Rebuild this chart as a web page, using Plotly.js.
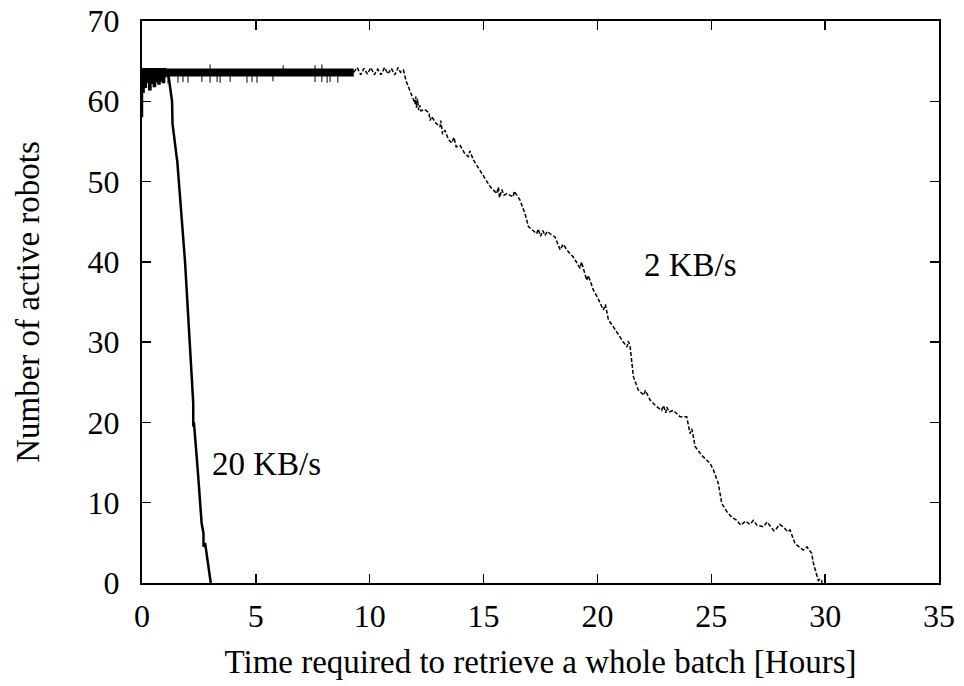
<!DOCTYPE html>
<html>
<head>
<meta charset="utf-8">
<script src="https://cdn.plot.ly/plotly-3.0.1.min.js"></script>
<style>html,body{margin:0;padding:0;background:#fff;}#chart{width:964px;height:686px;}</style>
</head>
<body>
<div id="chart"></div>
<script>
// ---- 20 KB/s series (hours, active robots) ----
const x20 = [0, 0, 0.02, 0.02, 0.07, 0.07, 0.12, 0.12, 0.17, 0.17, 0.22, 0.22, 0.27, 0.27, 0.32, 0.32,
  0.37, 0.37, 0.42, 0.42, 0.47, 0.47, 0.52, 0.52, 0.57, 0.57, 0.62, 0.62, 0.67, 0.67, 0.72, 0.72,
  0.77, 0.77, 0.82, 0.82, 0.87, 0.87, 0.92, 0.92, 0.97, 0.97, 1.02, 1.02, 1.08, 1.16,
  1.32, 1.34, 1.52, 1.55, 1.89, 2.25, 2.25, 2.28, 2.45, 2.62, 2.62, 2.7, 2.7, 2.77, 2.99, 3.02];
const y20 = [58, 64, 64, 61.2, 61.2, 64, 64, 61.8, 61.8, 64, 64, 62.4, 62.4, 64, 64, 61.5,
  61.5, 64, 64, 62.3, 62.3, 64, 64, 61.9, 61.9, 64, 64, 62.5, 62.5, 64, 64, 62.2,
  62.2, 64, 64, 62.6, 62.6, 64, 64, 62.4, 62.4, 64, 64, 63, 63.5, 63.3,
  60, 57.2, 53.1, 52.5, 40, 22.4, 19.5, 20, 14, 8.3, 7.4, 6.2, 4.5, 5.0, 0.5, 0];

// ---- 2 KB/s series: dense plateau band, dips and the descending trace ----
const xBand2 = [0, 9.3];
const yBand2 = [63.6, 63.6];

const xDip2 = [1.14, 1.14, null, 1.58, 1.58, null, 1.8, 1.8, null, 2.02, 2.02, null, 2.63, 2.63, null,
  2.99, 2.99, null, 3.3, 3.3, null, 3.43, 3.43, null, 3.87, 3.87, null, 4.61, 4.61, null,
  4.83, 4.83, null, 5.05, 5.05, null, 5.75, 5.75, null, 6.2, 6.2, null, 7.6, 7.6, null,
  7.9, 7.9, null, 8.13, 8.13, null, 8.26, 8.26, null, 8.6, 8.6];
const yDip2 = [63.2, 62.2, null, 63.2, 62.3, null, 63.2, 62.4, null, 63.2, 62.3, null, 63.2, 62.4, null,
  64.6, 62.3, null, 63.2, 62.4, null, 63.2, 62.3, null, 63.2, 62.4, null, 63.2, 62.3, null,
  63.2, 62.4, null, 63.2, 62.3, null, 63.2, 62.5, null, 64.5, 63.8, null, 64.5, 62.4, null,
  64.6, 62.4, null, 63.2, 62.3, null, 63.2, 62.4, null, 63.2, 62.3];

const x2 = [9.3, 9.45, 9.6, 9.75, 9.9, 10.05, 10.2, 10.35, 10.5, 10.65, 10.8, 10.95, 11.1, 11.25, 11.35,
  11.48, 11.6, 11.8, 11.99, 12.02, 12.05, 12.1, 12.15, 12.2, 12.25, 12.4, 12.6, 12.65, 12.72, 12.9, 13.09, 13.12, 13.2, 13.3,
  13.45, 13.6, 13.7, 13.8, 13.97, 14.15, 14.33, 14.4, 14.55, 14.84, 15.05, 15.28, 15.58, 15.65, 15.7, 15.8, 15.9, 16.02,
  16.3, 16.35, 16.6, 16.82, 16.97, 17.15, 17.33, 17.4, 17.5, 17.6, 17.7, 17.8, 17.92, 18.14, 18.36, 18.5, 18.65,
  18.94, 19.24, 19.3, 19.53, 19.6, 19.82, 20.0, 20.26, 20.35, 20.48, 20.7, 20.9, 21.14, 21.3, 21.35, 21.43, 21.5, 21.58,
  21.8, 22.05, 22.1, 22.31, 22.55, 22.82, 22.9, 23.0, 23.05, 23.15, 23.33, 23.63, 23.92, 24.07, 24.15, 24.29, 24.58,
  24.95, 25.09, 25.31, 25.46, 25.68, 25.9, 26.12, 26.3, 26.5, 26.7, 26.85, 27.0, 27.29, 27.45, 27.6,
  27.75, 27.87, 28.0, 28.2, 28.35, 28.46, 28.68, 29.04, 29.2, 29.41, 29.48, 29.63, 29.7, 29.78, 29.85, 29.85];
const y2 = [63.6, 64.2, 63.3, 64.1, 63.4, 64.2, 63.3, 64.0, 63.3, 64.2, 63.4, 64.1, 63.3, 64.2, 63.6,
  63.9, 62.5, 61, 59.7, 60.6, 59.2, 60.3, 58.9, 59.5, 58.8, 59, 58.6, 57.6, 58.1, 57.3, 56.8, 57.6, 55.9, 56.4,
  55.3, 54.8, 55.5, 54.3, 54.5, 53.6, 53.1, 53.8, 52.7, 51.4, 50.4, 49.4, 48.5, 49.3, 48.0, 49.0, 48.3, 48.5,
  48.1, 48.8, 47.7, 46.0, 44.4, 43.9, 43.5, 44.1, 43.2, 43.9, 43.3, 43.8, 43.5, 43.1, 41.5, 42.2, 41.5,
  40.6, 39.2, 40.0, 37.7, 38.3, 36.5, 35.6, 34.0, 34.7, 32.8, 31.9, 31.0, 30.0, 29.4, 30.1, 29.6, 27.5, 25.7,
  24.0, 23.4, 24.0, 22.8, 22.1, 21.5, 22.1, 21.2, 21.9, 21.3, 21.5, 20.7, 20.7, 18.6, 19.2, 17.0, 15.9,
  14.9, 14.1, 12.4, 9.9, 8.9, 8.2, 7.8, 7.2, 7.7, 7.3, 7.8, 7.2, 7.0, 7.6, 7.1,
  6.5, 6.8, 7.3, 6.9, 6.4, 6.6, 4.9, 4.1, 4.5, 3.7, 2.5, 1.0, 0.3, 0.5, 0.3, 0];

// ---- axis ticks and labels ----
const xTicks = [0, 5, 10, 15, 20, 25, 30, 35];
const yTicks = [0, 10, 20, 30, 40, 50, 60, 70];
const xTitle = 'Time required to retrieve a whole batch [Hours]';
const yTitle = 'Number of active robots';
const seriesLabels = ['20 KB/s', '2 KB/s'];
const labelPos = [[5.45, 14.8], [24.07, 39.6]];

const FONT = 'Liberation Serif, Times New Roman, serif';

const traces = [
  {x: x20, y: y20, mode: 'lines', line: {color: '#000', width: 2.5}, name: seriesLabels[0], hoverinfo: 'skip'},
  {x: xBand2, y: yBand2, mode: 'lines', line: {color: '#000', width: 8}, name: seriesLabels[1], hoverinfo: 'skip'},
  {x: xDip2, y: yDip2, mode: 'lines', line: {color: '#000', width: 1}, name: seriesLabels[1], connectgaps: false, hoverinfo: 'skip'},
  {x: x2, y: y2, mode: 'lines', line: {color: '#000', width: 1.5, dash: '4px,2px'}, name: seriesLabels[1], hoverinfo: 'skip'}
];

const axisCommon = {
  showgrid: false, zeroline: false, showline: true, linecolor: '#000', linewidth: 2,
  mirror: 'ticks', ticks: 'inside', ticklen: 9, tickwidth: 1.5, tickcolor: '#000',
  tickfont: {family: FONT, size: 32, color: '#000'}, automargin: false
};

const layout = {
  width: 964, height: 686,
  margin: {l: 142, r: 25, t: 21, b: 103, pad: 0},
  paper_bgcolor: '#fff', plot_bgcolor: '#fff',
  showlegend: false,
  font: {family: FONT, size: 32, color: '#000'},
  xaxis: Object.assign({}, axisCommon, {
    range: [0, 35], tickvals: xTicks, ticktext: xTicks.map(String), ticklabelstandoff: 4,
    title: {text: xTitle, font: {family: FONT, size: 33, color: '#000'}, standoff: 16}
  }),
  yaxis: Object.assign({}, axisCommon, {
    range: [0, 70], tickvals: yTicks, ticktext: yTicks.map(String), ticklabelstandoff: 14,
    title: {text: yTitle, font: {family: FONT, size: 33, color: '#000'}, standoff: 38}
  }),
  annotations: seriesLabels.map((t, i) => ({
    x: labelPos[i][0], y: labelPos[i][1], xref: 'x', yref: 'y', text: t, showarrow: false,
    font: {family: FONT, size: 33, color: '#000'}, xanchor: 'center', yanchor: 'middle'
  }))
};

Plotly.newPlot('chart', traces, layout, {staticPlot: true, displayModeBar: false});
</script>
</body>
</html>
